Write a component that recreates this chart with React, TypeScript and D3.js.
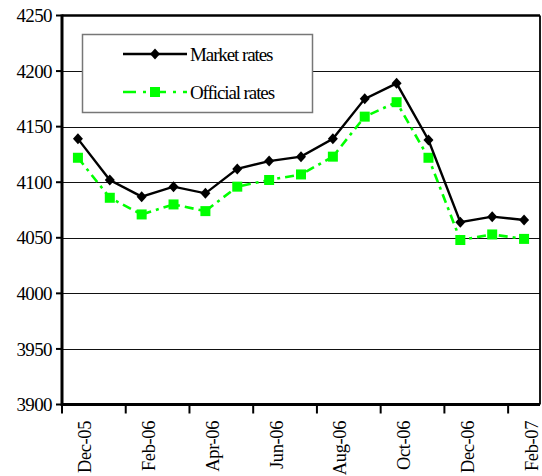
import * as React from "react";
import * as d3 from "d3";

const months = [
  "Dec-05", "Jan-06", "Feb-06", "Mar-06", "Apr-06", "May-06", "Jun-06", "Jul-06",
  "Aug-06", "Sep-06", "Oct-06", "Nov-06", "Dec-06", "Jan-07", "Feb-07",
];
const marketRates = [4139, 4102, 4087, 4096, 4090, 4112, 4119, 4123, 4139, 4175, 4189, 4138, 4064, 4069, 4066];
const officialRates = [4122, 4086, 4071, 4080, 4074, 4096, 4102, 4107, 4123, 4159, 4172, 4122, 4048, 4053, 4049];
const yTicks = [3900, 3950, 4000, 4050, 4100, 4150, 4200, 4250];
const labelledMonths = ["Dec-05", "Feb-06", "Apr-06", "Jun-06", "Aug-06", "Oct-06", "Dec-06", "Feb-07"];

const W = 542;
const H = 476;
const left = 62;
const right = 540;
const top = 15.5;
const bottom = 404.5;
const font = "'Liberation Serif', 'Times New Roman', serif";

export default function App() {
  const x = d3.scaleBand<string>().domain(months).range([left, right]).paddingInner(0).paddingOuter(0);
  const y = d3.scaleLinear().domain([3900, 4250]).range([bottom, top]);
  const cx = (m: string) => (x(m) as number) + x.bandwidth() / 2;

  const line = d3
    .line<number>()
    .x((_, i) => cx(months[i]))
    .y((d) => y(d));

  const diamond = (px: number, py: number) =>
    `M${px},${py - 5.5}L${px + 5},${py}L${px},${py + 5.5}L${px - 5},${py}Z`;

  // ticks sit on the band edges, every second month
  const xTickPos = labelledMonths.map((m) => x(m) as number);

  return (
    <svg
      width={W}
      height={H}
      style={{ position: "absolute", left: 0, top: 0, background: "#fff" }}
      fontFamily={font}
    >
      {/* gridlines */}
      {yTicks.slice(1, -1).map((t) => (
        <line key={t} x1={left} x2={right} y1={Math.round(y(t)) + 0.5} y2={Math.round(y(t)) + 0.5} stroke="#111" strokeWidth={1} />
      ))}

      {/* frame */}
      <line x1={left} x2={right} y1={top} y2={top} stroke="#000" strokeWidth={2.6} />
      <line x1={right} x2={right} y1={top} y2={bottom} stroke="#000" strokeWidth={1.8} />
      <line x1={left} x2={left} y1={top - 1} y2={bottom + 1.5} stroke="#000" strokeWidth={3} />
      <line x1={left} x2={right} y1={bottom} y2={bottom} stroke="#000" strokeWidth={3} />

      {/* y axis ticks & labels */}
      {yTicks.map((t) => (
        <g key={t}>
          <line x1={left - 6} x2={left} y1={y(t)} y2={y(t)} stroke="#000" strokeWidth={2} />
          <text x={52} y={y(t)} dy="0.35em" textAnchor="end" fontSize={19} letterSpacing={-0.6} fill="#000">
            {t}
          </text>
        </g>
      ))}

      {/* x axis ticks */}
      {xTickPos.map((p, i) => (
        <line key={i} x1={p} x2={p} y1={bottom} y2={bottom + 9} stroke="#000" strokeWidth={2} />
      ))}
      {labelledMonths.map((m) => (
        <text
          key={m}
          transform={`translate(${cx(m) + 7},421) rotate(-90)`}
          textAnchor="end"
          dy="0.35em"
          fontSize={18.5}
          letterSpacing={-0.4}
          fill="#000"
        >
          {m}
        </text>
      ))}

      {/* official rates */}
      <path d={line(officialRates) || ""} fill="none" stroke="#00ff00" strokeWidth={2.6} strokeDasharray="9,5,3,5" />
      {officialRates.map((v, i) => (
        <rect key={i} x={cx(months[i]) - 5} y={y(v) - 5} width={10} height={10} fill="#00ff00" />
      ))}

      {/* market rates */}
      <path d={line(marketRates) || ""} fill="none" stroke="#000" strokeWidth={2.4} />
      {marketRates.map((v, i) => (
        <path key={i} d={diamond(cx(months[i]), y(v))} fill="#000" />
      ))}

      {/* legend */}
      <g>
        <rect x={82.5} y={34.5} width={230} height={78} fill="#fff" stroke="#777" strokeWidth={1.5} />
        <line x1={123} x2={187} y1={54} y2={54} stroke="#000" strokeWidth={2.4} />
        <path d={diamond(155, 54)} fill="#000" />
        <text x={190} y={54} dy="0.35em" fontSize={19} letterSpacing={-1.1} fill="#000">
          Market rates
        </text>
        <line x1={123} x2={187} y1={92} y2={92} stroke="#00ff00" strokeWidth={2.6} strokeDasharray="13,7,3,7" />
        <rect x={150} y={87} width={10} height={10} fill="#00ff00" />
        <text x={190} y={92} dy="0.35em" fontSize={19} letterSpacing={-1.1} fill="#000">
          Official rates
        </text>
      </g>
    </svg>
  );
}
